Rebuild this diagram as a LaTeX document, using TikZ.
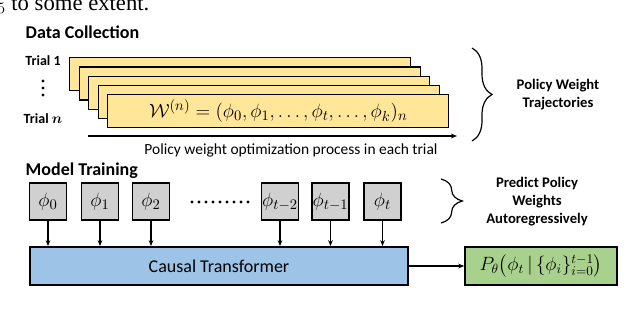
\documentclass[tikz,border=0pt]{standalone}
\usepackage{amsmath}
\usepackage{amssymb}
\usepackage{fontspec}
\setmainfont{Carlito}
\newfontfamily\pageserif{Liberation Serif}
\usetikzlibrary{
  arrows.meta,              % Stealth 箭头
  decorations.pathreplacing,% 大括号装饰
  positioning               % 节点相对定位
}
\definecolor{trajyellow}{HTML}{FFE699}
\definecolor{phigray}{HTML}{D0D0D0}
\definecolor{tfblue}{HTML}{9DC3E6}
\definecolor{outgreen}{HTML}{A9D18E}

\begin{document}
\begin{tikzpicture}[>={Stealth[length=4.5pt,width=3.5pt]}, x=0.75pt, y=-0.75pt,
  secttitle/.style={anchor=west, font=\bfseries\fontsize{13.5}{15}\selectfont},
  triallabel/.style={font=\bfseries\fontsize{10.5}{12}\selectfont},
  sidelabel/.style={align=center, font=\bfseries\fontsize{11}{13.5}\selectfont},
  trajbox/.style={draw, line width=1.1pt, fill=trajyellow, anchor=north west,
    minimum width=255.75pt, minimum height=24.75pt, inner sep=0pt},
  phibox/.style={draw, line width=1.1pt, fill=phigray, minimum size=27.75pt,
    inner sep=0pt, font=\fontsize{15}{17}\selectfont},
  bigbox/.style={draw, line width=1.1pt, minimum height=28.7pt, inner sep=0pt},
  bracedeco/.style={decorate, line width=0.9pt,
    decoration={brace, amplitude=#1}}
]
  % 画布大小
  \clip (0,0) rectangle (640,308);

  % 上方残留正文
  \node[anchor=base west, inner sep=0pt, font=\pageserif\fontsize{17}{20}\selectfont]
    (pagetext) at (-3,10) {$_5$\ to some extent.};

  % 数据收集
  \node[secttitle] (dctitle) at (21,32) {Data Collection};
  \node[triallabel] (trial1) at (43,61) {Trial 1};
  \node[triallabel] (trialn) at (43,119) {Trial $\boldsymbol{n}$};
  \foreach \y in {81,88,95}
    \fill (43,\y) circle (1.6);

  % 叠放的轨迹框
  \foreach \i in {1,...,4}
    \node[trajbox] (traj\i) at ({69+9.5*(\i-1)}, {57+9.25*(\i-1)}) {};
  \node[trajbox, font=\fontsize{15.3}{17}\selectfont] (traj5) at (107,94)
    {$\mathcal{W}^{(n)} = (\phi_0, \phi_1, \dots, \phi_t, \dots, \phi_k)_n$};

  \coordinate (procstart) at (88,136);
  \coordinate (procend) at (457,136);
  \draw[line width=0.9pt, ->] (procstart) -- (procend);
  \node[font=\fontsize{11.6}{13}\selectfont] (proclabel) at (291,150)
    {Policy weight optimization process in each trial};

  \draw[bracedeco=15pt] (472,48) -- (472,141);
  \node[sidelabel] (pwt) at (558,95) {Policy Weight\\Trajectories};

  % 模型训练
  \node[secttitle] (mttitle) at (21,171) {Model Training};
  \node[phibox] (p0) at (48,201.5) {$\phi_0$};
  \node[phibox] (p1) at (100,201.5) {$\phi_1$};
  \node[phibox] (p2) at (151,201.5) {$\phi_2$};
  \node[phibox] (pt2) at (280,201.5) {$\phi_{t-2}$};
  \node[phibox] (pt1) at (330.5,201.5) {$\phi_{t-1}$};
  \node[phibox] (pt) at (382.5,201.5) {$\phi_t$};
  \foreach \x in {0,...,8}
    \fill ({192+7*\x},202) circle (1.6);

  \node[bigbox, fill=tfblue, minimum width=283.5pt,
    font=\fontsize{13.5}{15}\selectfont] (tf) at (219,266) {Causal Transformer};
  \node[bigbox, fill=outgreen, minimum width=114pt,
    font=\fontsize{14}{16}\selectfont] (out) at (541,266)
    {$P_\theta\bigl(\phi_t \,|\, \{\phi_i\}_{i=0}^{t-1}\bigr)$};

  \foreach \p in {p0,p1,p2,pt2,pt1,pt}
    \draw[line width=0.9pt, ->] (\p) -- (\p |- tf.north);
  \draw[line width=0.9pt, ->] (tf) -- (out);

  \draw[bracedeco=16pt] (441,179) -- (441,223);
  \node[sidelabel] (ppw) at (537,202) {Predict Policy\\Weights\\Autoregressively};
\end{tikzpicture}
\end{document}
